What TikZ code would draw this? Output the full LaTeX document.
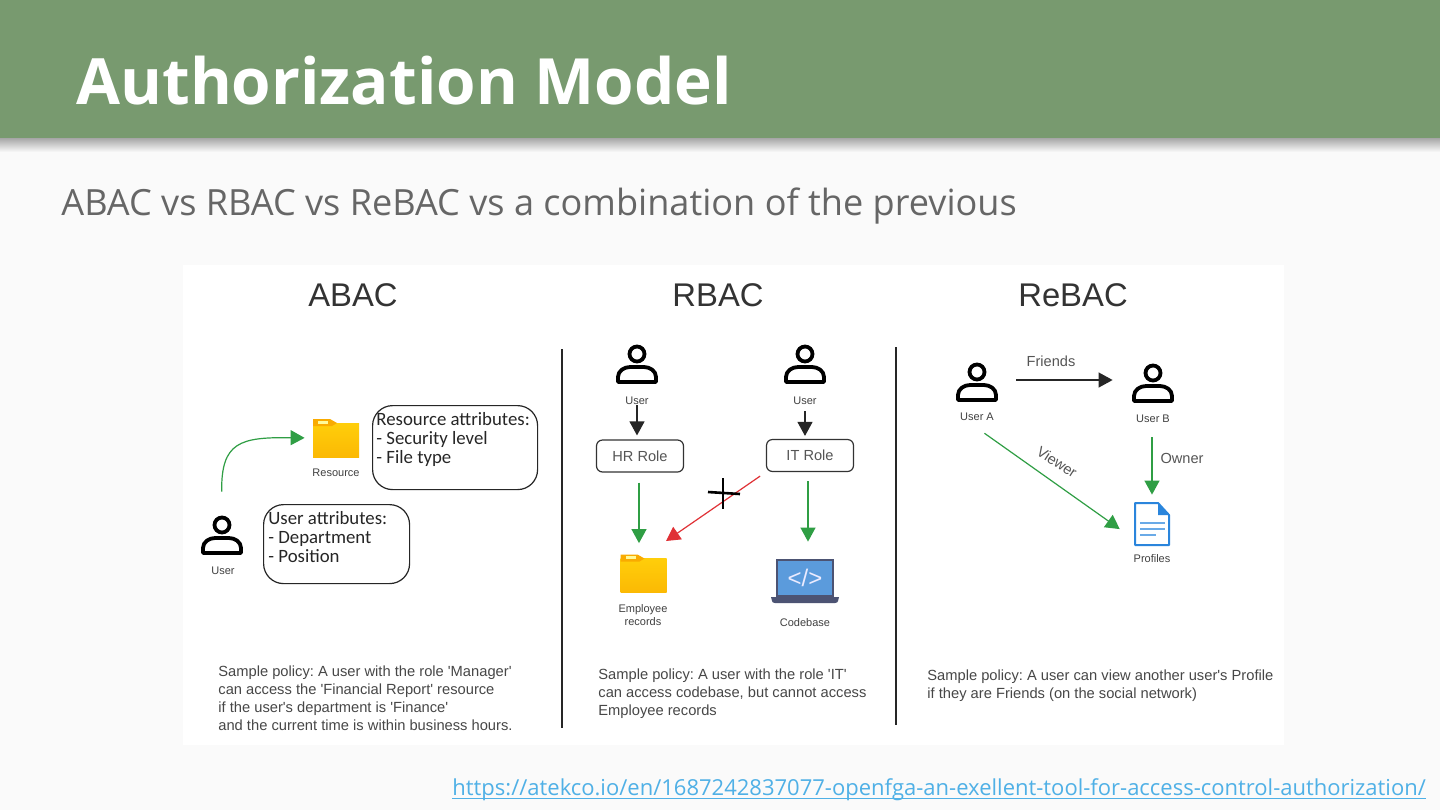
\documentclass[tikz,border=0pt]{standalone}
\usepackage{fontspec}
\setmainfont{Liberation Sans}
\newfontfamily\slidefont{Open Sans}
\newfontfamily\handfont{Carlito}
\usetikzlibrary{arrows.meta, shadings}
\definecolor{slidebg}{HTML}{FAFAFA}
\definecolor{headgreen}{HTML}{789A6F}
\definecolor{subgray}{HTML}{666666}
\definecolor{labelgray}{HTML}{555555}
\definecolor{okgreen}{HTML}{2F9E44}
\definecolor{denyred}{HTML}{E03136}
\definecolor{linkblue}{HTML}{4FB0E6}
\definecolor{foldertab}{HTML}{F9AB00}
\definecolor{folderbody}{HTML}{FFCE0A}
\definecolor{docblue}{HTML}{2A85DC}
\definecolor{screenblue}{HTML}{5B9BDC}
\definecolor{laptopgray}{HTML}{4C5373}

\begin{document}
\frenchspacing
\begin{tikzpicture}[
	x=0.5pt, y=-0.5pt,
	heading/.style={font=\fontsize{16.4}{18}\selectfont, text=black!80, inner sep=0},
	caption/.style={font=\fontsize{5.5}{6.5}\selectfont, text=black!75, inner sep=0, align=center},
	edgelabel/.style={font=\fontsize{7.3}{9}\selectfont, text=labelgray, inner sep=0},
	role/.style={draw=black!80, line width=0.6pt, rounded corners=3pt, minimum width=43.5pt, minimum height=16pt, inner sep=0, font=\fontsize{7.3}{9}\selectfont, text=labelgray},
	attr/.style={draw=black!85, line width=0.6pt, rounded corners=10pt, anchor=north west},
	hand/.style={font=\handfont\fontsize{9.4}{9.2}\selectfont, text=black!85, inner sep=0, align=left, anchor=north west},
	policy/.style={font=\fontsize{7.35}{9.1}\selectfont, text=black!72, inner sep=0, align=left, anchor=north west},
	iconbox/.style={inner sep=0},
	arrow/.style={-{Triangle[length=7pt, width=7.5pt]}, line width=0.6pt},
	person/.pic={
		\draw[line width=1.9pt, black] (0,-10) circle[radius=7.5];
		\draw[line width=1.9pt, black, line join=round] (-19,18) -- (-19,13) .. controls (-19,7) and (-13,3) .. (-7,3) -- (7,3) .. controls (13,3) and (19,7) .. (19,13) -- (19,18) -- cycle;
	},
	folder/.pic={
		\shade[top color=folderbody, bottom color=foldertab!60!folderbody] (-23,-15) rectangle (23,19);
		\fill[foldertab] (-23,-19) -- (-6,-19) -- (1,-15) -- (-4,-12) -- (-23,-12) -- cycle;
		\fill[yellow!40!white] (-18,-17.500) rectangle (-8,-14.500);
	},
	paperdoc/.pic={
		\draw[line width=1pt, docblue, fill=white, line join=round] (-17,-21) -- (6,-21) -- (17,-9) -- (17,21) -- (-17,21) -- cycle;
		\fill[docblue] (6,-21) -- (17,-9) -- (6,-9) -- cycle;
		\foreach \ypos/\xend in {-1/13, 5/13, 11/4}
			\draw[line width=1.4pt, docblue!70!white] (-12,\ypos) -- (\xend,\ypos);
	},
	laptop/.pic={
		\fill[laptopgray] (-29,-22) rectangle (29,16);
		\fill[screenblue] (-27,-20) rectangle (27,14);
		\fill[laptopgray] (-34,16) -- (34,16) -- (33,20) .. controls (33,21) and (32,22) .. (30,22) -- (-30,22) .. controls (-32,22) and (-33,21) .. (-33,20) -- cycle;
	}
]
	\useasboundingbox (0,0) rectangle (1440,810);

	% Slide background
	\fill[slidebg] (0,0) rectangle (1440,810);
	\shade[top color=black!35, bottom color=slidebg] (0,138) rectangle (1440,152);
	\fill[headgreen] (0,0) rectangle (1440,138);
	\fill[white] (183,265) rectangle (1284,745);

	% Slide texts
	\node[anchor=base west, inner sep=0, text=white, font=\slidefont\bfseries\fontsize{31.9}{36}\selectfont] (title) at (76,104) {Authorization Model};
	\node[anchor=base west, inner sep=0, text=subgray, font=\slidefont\fontsize{18.05}{22}\selectfont] (subtitle) at (61,215) {ABAC vs RBAC vs ReBAC vs a combination of the previous};
	\node[anchor=base west, inner sep=0, text=linkblue, font=\slidefont\fontsize{11}{13}\selectfont] (link) at (452,795) {https://atekco.io/en/1687242837077-openfga-an-exellent-tool-for-access-control-authorization/};
	\draw[linkblue, line width=0.5pt] ([yshift=-1.5pt]link.base west) -- ([yshift=-1.5pt]link.base east);

	% Headings and dividers
	\node[heading] (abacHead) at (353,295) {ABAC};
	\node[heading] (rbacHead) at (718,295) {RBAC};
	\node[heading] (rebacHead) at (1073,295) {ReBAC};
	\draw[line width=0.6pt, black!85] (562,349) -- (562,728);
	\draw[line width=0.6pt, black!85] (896,347) -- (896,725);

	% ABAC
	\pic at (222,535) {person};
	\pic at (336,438) {folder};
	\node[iconbox, minimum width=21pt, minimum height=20pt] (abacUser) at (222,535) {};
	\node[iconbox, minimum width=23pt, minimum height=19pt] (resFolder) at (336,438) {};
	\node[caption] (abacUserLbl) at (223,571) {User};
	\node[caption] (resLbl) at (336,473) {Resource};
	\node[attr, minimum width=82.5pt, minimum height=42pt] (resBox) at (372,405) {};
	\node[hand] (resText) at (376,412) {Resource attributes:\\[0.2pt]- Security level\\[0.2pt]- File type};
	\node[attr, minimum width=73pt, minimum height=39.5pt] (userBox) at (263,504) {};
	\node[hand] (userText) at (268,511) {User attributes:\\[0.2pt]- Department\\[0.2pt]- Position};
	\draw[arrow, okgreen, shorten <=11.5pt, shorten >=4pt] (abacUser.north) .. controls (221,442) and (240,437) .. (resFolder.west);
	\node[policy] (abacPolicy) at (218,665) {Sample policy: A user with the role \textquotesingle Manager\textquotesingle\\can access the \textquotesingle Financial Report\textquotesingle\ resource\\if the user\textquotesingle s department is \textquotesingle Finance\textquotesingle\\and the current time is within business hours.};

	% RBAC
	\pic at (637,364) {person};
	\pic at (805,364) {person};
	\node[caption] (hrUser) at (637,401) {User};
	\node[caption] (itUser) at (805,401) {User};
	\node[role] (hrRole) at (640,456) {HR Role};
	\node[role] (itRole) at (810,455.500) {IT Role};
	\pic at (643.500,573.500) {folder};
	\node[iconbox, minimum width=23pt, minimum height=19pt] (empFolder) at (643.500,573.500) {};
	\node[caption] (empLbl) at (643,615) {Employee\\records};
	\pic at (805,581) {laptop};
	\node[iconbox, minimum width=33.500pt, minimum height=22pt] (codeLaptop) at (805,581) {};
	\node[inner sep=0, text=blue!8, font=\fontsize{12}{14}\selectfont] (codeTag) at (805,578) {</>};
	\node[caption] (codeLbl) at (805,623) {Codebase};
	\coordinate (denyTip) at (666,541);
	\draw[arrow, black!85, shorten >=2pt] (hrUser.south) -- (hrUser.south |- hrRole.north);
	\draw[arrow, black!85, shorten <=3pt, shorten >=1.500pt] (itUser.south) -- (itUser.south |- itRole.north);
	\draw[arrow, okgreen, shorten <=5pt, shorten >=5.500pt] ([xshift=-0.5pt]hrRole.south) -- ([xshift=-0.5pt]hrRole.south |- empFolder.north);
	\draw[arrow, okgreen, shorten <=4.500pt, shorten >=8.500pt] ([xshift=-1pt]itRole.south) -- ([xshift=-1pt]itRole.south |- codeLaptop.north);
	\draw[arrow, denyred, shorten <=3.500pt] (itRole.south west) -- (denyTip);
	\draw[line width=1.3pt, black] (708,492) -- (740,494);
	\draw[line width=1.3pt, black] (723,478) -- (723,509);
	\node[policy] (rbacPolicy) at (598,668) {Sample policy: A user with the role \textquotesingle IT\textquotesingle\\can access codebase, but cannot access\\Employee records};

	% ReBAC
	\pic at (977,382) {person};
	\pic at (1153,383) {person};
	\node[iconbox, minimum width=21pt, minimum height=20pt] (userA) at (977,380) {};
	\node[iconbox, minimum width=21pt, minimum height=20pt] (userB) at (1153,380) {};
	\node[caption] (userALbl) at (977,417) {User A};
	\node[caption] (userBLbl) at (1153,419) {User B};
	\pic at (1152,524) {paperdoc};
	\node[iconbox, minimum width=18pt, minimum height=22pt] (profDoc) at (1152,524) {};
	\node[caption] (profLbl) at (1152,559) {Profiles};
	\draw[arrow, black!85, shorten <=9pt, shorten >=9.500pt] (userA.east) -- (userB.west);
	\node[edgelabel] (friendsLbl) at (1051,361) {Friends};
	\draw[arrow, okgreen, shorten <=10.400pt, shorten >=8.500pt] (userALbl.204) -- (profDoc.219);
	\node[edgelabel, rotate=-33] (viewerLbl) at (1057,462) {Viewer};
	\draw[arrow, okgreen, shorten <=7pt, shorten >=3.500pt] (profDoc.north |- userBLbl.south) -- (profDoc.north);
	\node[edgelabel] (ownerLbl) at (1182,458) {Owner};
	\node[policy] (rebacPolicy) at (927,669) {Sample policy: A user can view another user\textquotesingle s Profile\\if they are Friends (on the social network)};
\end{tikzpicture}
\end{document}
